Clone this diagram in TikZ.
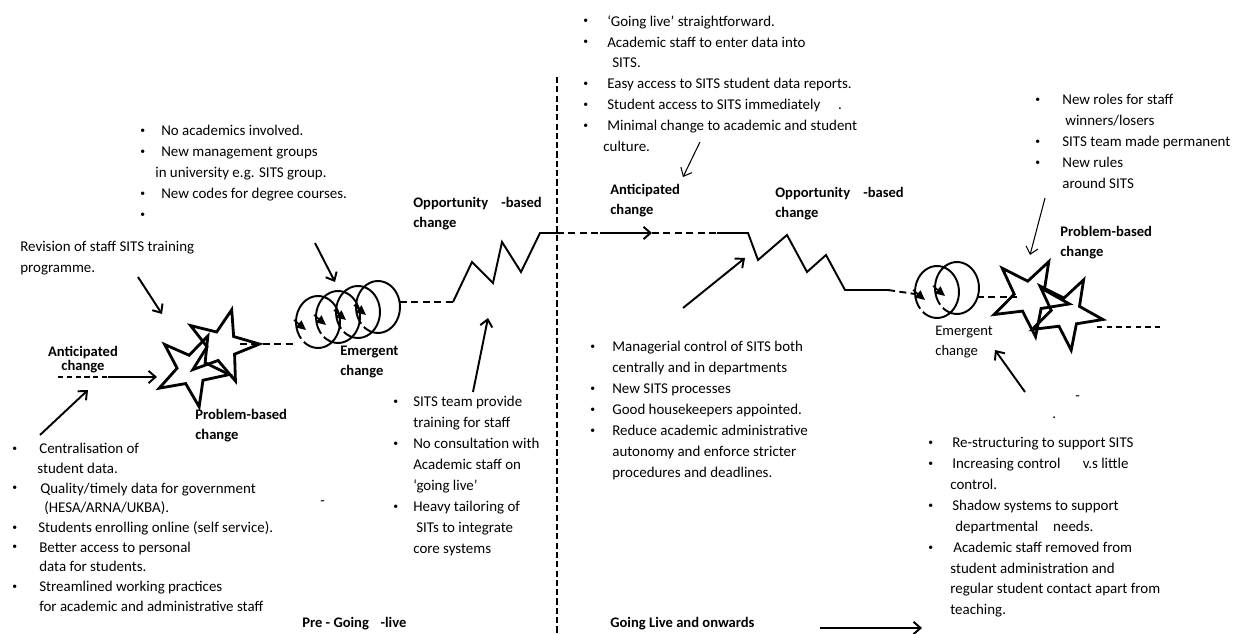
\documentclass[tikz,border=0pt]{standalone}
\usepackage{fontspec}
\setmainfont{Carlito}
\usetikzlibrary{shapes.geometric, arrows.meta, positioning, calc}

\newcommand{\bitem}[1][0.42cm]{\makebox[#1][l]{\raisebox{0.3ex}{\fontsize{5.5}{5.5}\selectfont\textbullet}}}
\newcommand{\bcont}[1][0.42cm]{\hspace*{#1}}

\begin{document}
\begin{tikzpicture}[
    x=0.02cm, y=-0.02cm,
    txt/.style={anchor=north west, align=left, inner sep=0pt, font=\fontsize{8.5}{11.9}\selectfont},
    lbl/.style={anchor=north west, align=left, inner sep=0pt, font=\fontsize{8.3}{11.4}\selectfont\bfseries},
    arr/.style={-{Straight Barb[length=4pt, width=7pt]}, line width=1.1pt},
    thinarr/.style={-{Straight Barb[length=4pt, width=7pt]}, line width=0.6pt},
    dashline/.style={line width=1.1pt, dash pattern=on 4pt off 2.5pt},
    starshape/.style={star, star points=5, star point ratio=2.5, draw, line width=1.6pt, minimum size=1.55cm, inner sep=0pt},
    zig/.style={line width=1.1pt, line join=miter},
    coilarr/.style={-{Triangle[length=5.5pt, width=5pt]}, line width=0.9pt},
]
\useasboundingbox (0,0) rectangle (1238,634);

% text blocks
\node[txt] (topleft) at (140,125) {\bitem No academics involved.\\
  \bitem New management groups\\
  \bcont[0.3cm]in university e.g. SITS group.\\
  \bitem New codes for degree courses.\\
  \bitem};
\node[txt] (revision) at (20,241) {Revision of staff SITS training\\programme.};
\node[txt, font=\fontsize{8.5}{11.2}\selectfont] (botleft) at (12,443) {\bitem[0.54cm]Centralisation of\\
  \bcont[0.5cm]student data.\\
  \bitem[0.56cm]Quality/timely data for government\\
  \bcont[0.64cm](HESA/ARNA/UKBA).\\
  \bitem[0.52cm]Students enrolling online (self service).\\
  \bitem[0.54cm]Better access to personal\\
  \bcont[0.54cm]data for students.\\
  \bitem[0.54cm]Streamlined working practices\\
  \bcont[0.54cm]for academic and administrative staff};
\node[txt] (sitsteam) at (393,396) {\bitem[0.4cm]SITS team provide\\
  \bcont[0.4cm]training for staff\\
  \bitem[0.4cm]No consultation with\\
  \bcont[0.4cm]Academic staff on\\
  \bcont[0.4cm]`going live'\\
  \bitem[0.4cm]Heavy tailoring of\\
  \bcont[0.46cm]SITs to integrate\\
  \bcont[0.4cm]core systems};
\node[txt] (topmid) at (583,15) {\bitem[0.48cm]`Going live' straightforward.\\
  \bitem[0.48cm]Academic staff to enter data into\\
  \bcont[0.58cm]SITS.\\
  \bitem[0.48cm]Easy access to SITS student data reports.\\
  \bitem[0.48cm]Student access to SITS immediately\hspace{1.2em}.\\
  \bitem[0.48cm]Minimal change to academic and student\\
  \bcont[0.4cm]culture.};
\node[txt] (managerial) at (590,341) {\bitem[0.44cm]Managerial control of SITS both\\
  \bcont[0.44cm]centrally and in departments\\
  \bitem[0.44cm]New SITS processes\\
  \bitem[0.44cm]Good housekeepers appointed.\\
  \bitem[0.44cm]Reduce academic administrative\\
  \bcont[0.44cm]autonomy and enforce stricter\\
  \bcont[0.44cm]procedures and deadlines.};
\node[txt] (topright) at (1035,94) {\bitem[0.54cm]New roles for staff\\
  \bcont[0.6cm]winners/losers\\
  \bitem[0.54cm]SITS team made permanent\\
  \bitem[0.54cm]New rules\\
  \bcont[0.54cm]around SITS};
\node[txt] (botright) at (928,437) {\bitem[0.48cm]Re-structuring to support SITS\\
  \bitem[0.48cm]Increasing control\hspace{1.5em}v.s little\\
  \bcont[0.44cm]control.\\
  \bitem[0.48cm]Shadow systems to support\\
  \bcont[0.54cm]departmental\hspace{1em}needs.\\
  \bitem[0.5cm]Academic staff removed from\\
  \bcont[0.44cm]student administration and\\
  \bcont[0.44cm]regular student contact apart from\\
  \bcont[0.44cm]teaching.};

% stray marks
\node[txt] (markA) at (320,500) {-};
\node[txt] (markB) at (1075,395) {-};
\node[txt] (markC) at (1052,416) {.};

% change labels
\node[lbl, anchor=north, align=center, font=\fontsize{8.3}{8}\selectfont\bfseries] (antleft) at (83,346) {Anticipated\\change};
\node[lbl] (pbleft) at (195,409) {Problem-based\\change};
\node[lbl] (emleft) at (340,346) {Emergent\\change};
\node[lbl] (oppleft) at (413,197) {Opportunity\hspace{0.9em}-based\\change};
\node[lbl] (antmid) at (610,184) {Anticipated\\change};
\node[lbl] (oppright) at (775,187) {Opportunity\hspace{0.9em}-based\\change};
\node[lbl, font=\fontsize{8.3}{11.4}\selectfont] (emright) at (935,326) {Emergent\\change};
\node[lbl] (pbright) at (1060,226) {Problem-based\\change};
\node[lbl] (prelive) at (302,617) {Pre - Going\hspace{0.8em}-live};
\node[lbl] (golive) at (610,617) {Going Live and onwards};

% stars
\node[starshape, minimum size=1.5cm, rotate=-25] (starLa) at (192,370) {};
\node[starshape, minimum size=1.5cm, rotate=-15] (starLb) at (222,346) {};
\node[starshape, minimum size=1.6cm, rotate=-28] (starRa) at (1030,297) {};
\node[starshape, minimum size=1.5cm, rotate=-28] (starRb) at (1066,313) {};

% coils
\foreach \cx/\cy in {318/322, 338/317, 358/312, 378/307, 937/292, 957/288} {
  \draw[line width=1.1pt] plot[domain=220:-130, samples=40, smooth] ({\cx+22*cos(\x)}, {\cy-26*sin(\x)});
  \draw[coilarr] (\cx-24,\cy-2) -- (\cx-12,\cy+8);
}

% path points
\coordinate (divtop) at (557,77);
\coordinate (divbot) at (557,634);
\coordinate (antdashA) at (58,377);
\coordinate (antdashB) at (108,377);
\coordinate (starin) at (157,377);
\coordinate (stardashA) at (240,344);
\coordinate (coilLin) at (297,344);
\coordinate (coilLout) at (400,302);
\coordinate (zigLa) at (453,302);
\coordinate (zigLb) at (540,233);
\coordinate (zigLc) at (557,233);
\coordinate (midarrA) at (600,233);
\coordinate (midarrB) at (652,233);
\coordinate (middashB) at (717,233);
\coordinate (zigRa) at (748,233);
\coordinate (zigRb) at (845,290);
\coordinate (zigRc) at (888,290);
\coordinate (coilRin) at (915,294);
\coordinate (coilRout) at (977,297);
\coordinate (starRin) at (1017,297);
\coordinate (taildashA) at (1097,327);
\coordinate (taildashB) at (1163,327);

% divider
\draw[line width=1.1pt, dash pattern=on 3.5pt off 1.8pt] (divtop) -- (divbot);

% main line
\draw[line width=0.8pt, dash pattern=on 3pt off 2pt] (antdashA) -- (antdashB);
\draw[arr] (antdashB) -- (starin);
\draw[dashline] (stardashA) -- (coilLin);
\draw[dashline] (coilLout) -- (zigLa);
\draw[zig] (zigLa) -- (472,262) -- (493,283) -- (502,242) -- (521,272) -- (zigLb) -- (zigLc);
\draw[dashline] (zigLc) -- (midarrA);
\draw[arr] (midarrA) -- (midarrB);
\draw[dashline] (midarrB) -- (middashB);
\draw[zig] (middashB) -- (zigRa) -- (758,260) -- (787,235) -- (807,272) -- (826,255) -- (zigRb) -- (zigRc);
\draw[dashline] (zigRc) -- (coilRin);
\draw[dashline] (coilRout) -- (starRin);
\draw[line width=0.6pt, dash pattern=on 3pt off 2.5pt] (taildashA) -- (taildashB);

% pointers
\coordinate (revA) at (138,277);
\coordinate (revB) at (162,314);
\coordinate (tlA) at (315,243);
\coordinate (tlB) at (335,282);
\coordinate (blA) at (40,435);
\coordinate (blB) at (88,390);
\coordinate (sitsA) at (473,392);
\coordinate (sitsB) at (488,318);
\coordinate (tmA) at (700,142);
\coordinate (tmB) at (683,177);
\coordinate (mgA) at (683,308);
\coordinate (mgB) at (745,258);
\coordinate (trA) at (1045,198);
\coordinate (trB) at (1030,255);
\coordinate (brA) at (1025,392);
\coordinate (brB) at (995,350);
\coordinate (goA) at (820,628);
\coordinate (goB) at (922,628);

\draw[arr] (revA) -- (revB);
\draw[arr] (tlA) -- (tlB);
\draw[arr] (blA) -- (blB);
\draw[arr] (sitsA) -- (sitsB);
\draw[thinarr] (tmA) -- (tmB);
\draw[arr] (mgA) -- (mgB);
\draw[thinarr] (trA) -- (trB);
\draw[arr] (brA) -- (brB);
\draw[arr] (goA) -- (goB);

\end{tikzpicture}
\end{document}
